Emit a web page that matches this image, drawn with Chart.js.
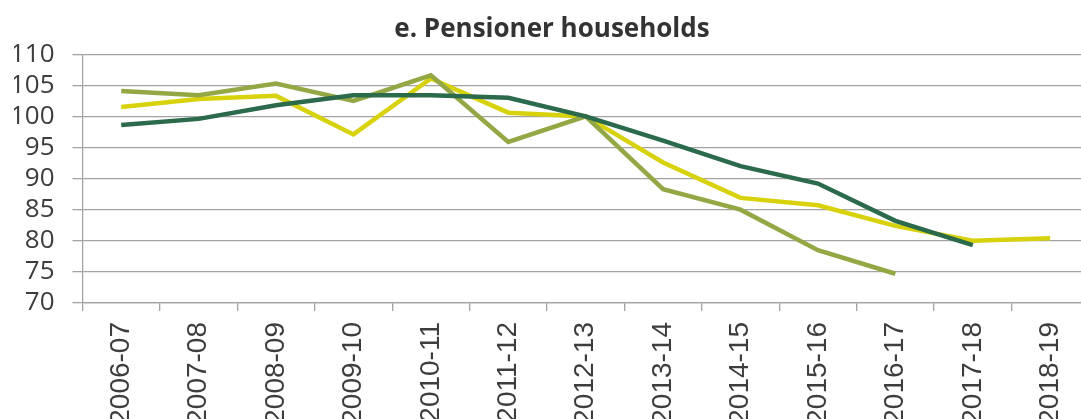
<!DOCTYPE html>
<html>
<head>
<meta charset="utf-8">
<script src="https://cdn.jsdelivr.net/npm/chart.js@4.4.1/dist/chart.umd.min.js"></script>
<style>
  html, body { margin: 0; padding: 0; background: #ffffff; overflow: hidden; }
  #wrap { width: 1081px; height: 419px; overflow: hidden; }
</style>
</head>
<body>
<div id="wrap">
  <canvas id="pensionerChart" width="1095" height="419"></canvas>
</div>
<script>
const years = ['2006-07', '2007-08', '2008-09', '2009-10', '2010-11', '2011-12', '2012-13',
               '2013-14', '2014-15', '2015-16', '2016-17', '2017-18', '2018-19'];

const darkGreenValues = [98.6, 99.6, 101.8, 103.4, 103.4, 103.0, 100, 96.1, 92.0, 89.2, 83.2, 79.3, null];
const oliveValues     = [104.1, 103.4, 105.3, 102.5, 106.6, 95.9, 100, 88.3, 85.0, 78.5, 74.7, null, null];
const yellowValues    = [101.5, 102.8, 103.3, 97.1, 106.1, 100.6, 100, 92.6, 86.9, 85.7, 82.4, 80.0, 80.4];

const yMin = 70;
const yMax = 110;
const yStep = 5;

const gridColor = '#a3a3a3';
const textColor = '#3d3d3d';

const ctx = document.getElementById('pensionerChart').getContext('2d');

new Chart(ctx, {
    type: 'line',
    data: {
        labels: years,
        datasets: [{
            label: 'Dark green',
            data: darkGreenValues,
            borderColor: '#2b6a4b',
            borderWidth: 4.5,
            pointRadius: 0,
            tension: 0,
            fill: false
        }, {
            label: 'Olive',
            data: oliveValues,
            borderColor: '#93a845',
            borderWidth: 4.5,
            pointRadius: 0,
            tension: 0,
            fill: false
        }, {
            label: 'Yellow',
            data: yellowValues,
            borderColor: '#d7d20c',
            borderWidth: 4.5,
            pointRadius: 0,
            tension: 0,
            fill: false
        }]
    },
    options: {
        responsive: false,
        animation: false,
        layout: {
            padding: { left: 14, right: 5, top: 0, bottom: 0 }
        },
        plugins: {
            legend: { display: false },
            tooltip: { enabled: false },
            title: {
                display: true,
                text: 'e. Pensioner households',
                color: '#333333',
                font: { family: 'Open Sans', size: 26, weight: 'bold' },
                padding: { top: 14, bottom: 9 }
            }
        },
        scales: {
            y: {
                min: yMin,
                max: yMax,
                ticks: {
                    stepSize: yStep,
                    autoSkip: false,
                    color: textColor,
                    padding: 18,
                    font: { family: 'Open Sans', size: 26, lineHeight: 1 }
                },
                grid: {
                    color: gridColor,
                    lineWidth: 1.3,
                    tickLength: 10
                },
                border: { color: gridColor, width: 1.3 },
                afterFit(scale) { scale.width = 68.5; }
            },
            x: {
                offset: true,
                ticks: {
                    color: textColor,
                    minRotation: 90,
                    maxRotation: 90,
                    autoSkip: false,
                    padding: 11,
                    font: { family: 'Liberation Sans', size: 28 }
                },
                grid: {
                    offset: true,
                    drawOnChartArea: false,
                    color: gridColor,
                    lineWidth: 1.3,
                    tickLength: 8
                },
                border: { color: gridColor, width: 1.3 },
                afterFit(scale) { scale.height = 116; }
            }
        }
    }
});
</script>
</body>
</html>
